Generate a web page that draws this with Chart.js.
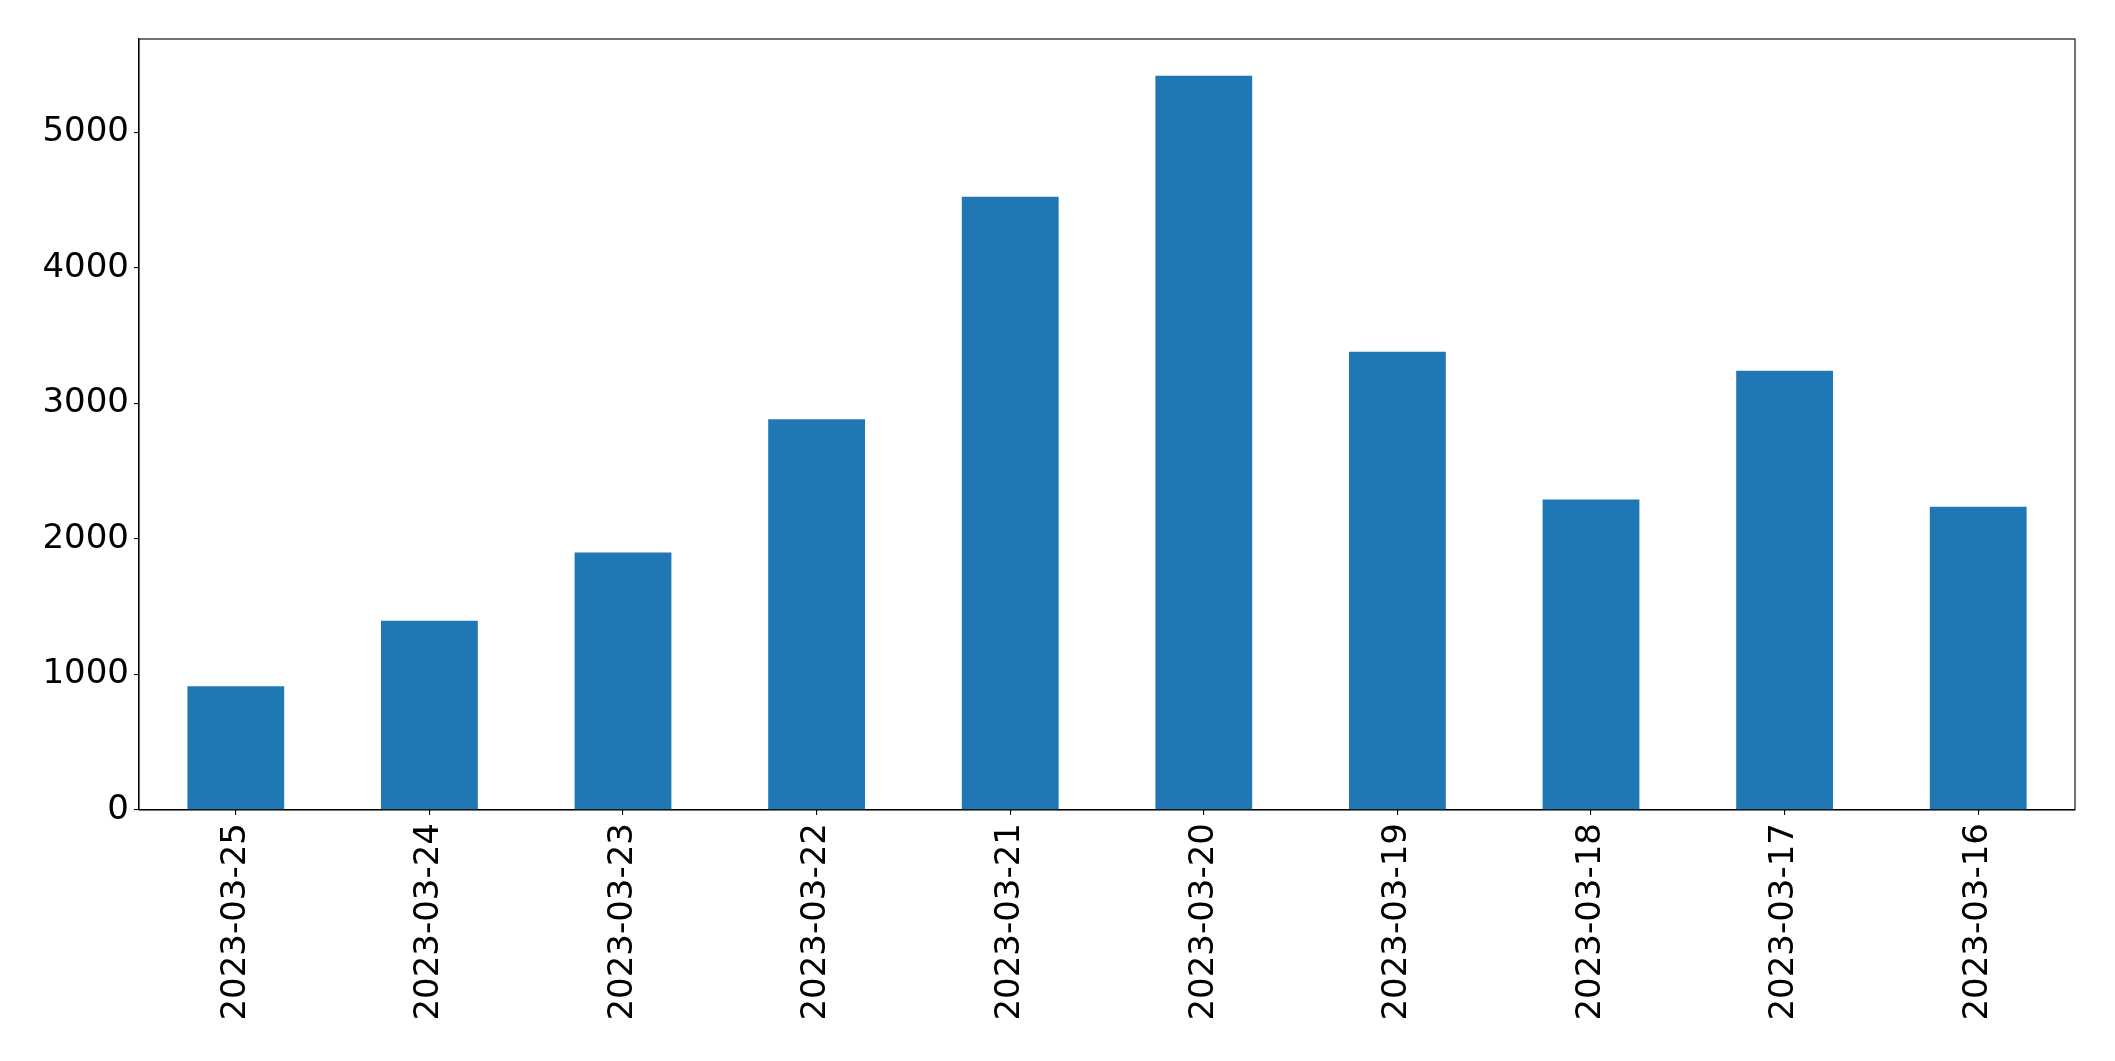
<!DOCTYPE html>
<html>
<head>
<meta charset="utf-8">
<script src="https://cdn.jsdelivr.net/npm/chart.js@4"></script>
<style>
    html, body { margin: 0; padding: 0; background: #fff; }
    #wrap { width: 2115px; height: 1061px; }
</style>
</head>
<body>
<div id="wrap"><canvas id="barChart" width="2115" height="1061"></canvas></div>
<script>
// Data
const dates = ['2023-03-25', '2023-03-24', '2023-03-23', '2023-03-22', '2023-03-21',
               '2023-03-20', '2023-03-19', '2023-03-18', '2023-03-17', '2023-03-16'];
const counts = [913, 1395, 1899, 2883, 4524, 5416, 3380, 2290, 3240, 2237];
const yTicks = [0, 1000, 2000, 3000, 4000, 5000];

document.addEventListener('DOMContentLoaded', function () {
    const yMax = Math.max(...counts) * 1.05;

    // Draw the full frame around the plot area (top and right sides too)
    const frame = {
        id: 'frame',
        afterDraw(chart) {
            const { ctx, chartArea } = chart;
            ctx.save();
            ctx.strokeStyle = '#000';
            ctx.lineWidth = 1.1;
            ctx.strokeRect(chartArea.left, chartArea.top,
                chartArea.right - chartArea.left, chartArea.bottom - chartArea.top);
            ctx.restore();
        }
    };

    const ctx = document.getElementById('barChart').getContext('2d');
    new Chart(ctx, {
        type: 'bar',
        data: {
            labels: dates,
            datasets: [{
                data: counts,
                backgroundColor: '#1f77b4',
                borderWidth: 0,
                categoryPercentage: 1.0,
                barPercentage: 0.5
            }]
        },
        options: {
            responsive: false,
            animation: false,
            layout: { padding: { top: 39, right: 40, left: 0, bottom: 0 } },
            plugins: {
                legend: { display: false },
                tooltip: { enabled: false }
            },
            scales: {
                x: {
                    offset: true,
                    grid: { display: true, offset: false, drawOnChartArea: false, drawTicks: true, tickLength: 5, color: '#000', lineWidth: 1.1 },
                    border: { display: true, color: '#000', width: 1.1 },
                    ticks: {
                        color: '#000',
                        font: { family: 'DejaVu Sans', size: 34 },
                        minRotation: 90,
                        maxRotation: 90,
                        padding: 8,
                        autoSkip: false
                    },
                    afterFit(scale) { scale.height = 251; }
                },
                y: {
                    min: 0,
                    max: yMax,
                    grid: { display: true, drawOnChartArea: false, drawTicks: true, tickLength: 5, color: '#000', lineWidth: 1.1 },
                    border: { display: true, color: '#000', width: 1.1 },
                    ticks: {
                        color: '#000',
                        font: { family: 'DejaVu Sans', size: 34 },
                        padding: 5,
                        callback: v => String(v)
                    },
                    afterBuildTicks(scale) {
                        scale.ticks = yTicks.map(v => ({ value: v }));
                    },
                    afterFit(scale) { scale.width = 139; }
                }
            }
        },
        plugins: [frame]
    });
});
</script>
</body>
</html>
